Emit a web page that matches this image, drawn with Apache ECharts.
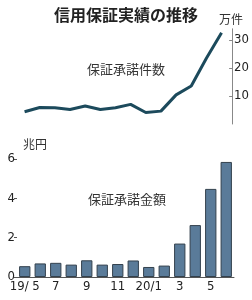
<!DOCTYPE html>
<html><head><meta charset="utf-8">
<script src="https://cdn.jsdelivr.net/npm/echarts@6/dist/echarts.min.js"></script>
<style>html,body{margin:0;padding:0;background:#fff}#c{width:252px;height:300px}</style>
</head><body><div id="c"></div>
<script>
const categories = ['19/ 5','6','7','8','9','10','11','12','20/1','2','3','4','5','6'];
const guaranteeCount = [4.4, 5.9, 5.8, 5.2, 6.4, 5.2, 5.8, 7.0, 4.1, 4.6, 10.4, 13.6, 23.5, 32.6];
const guaranteeAmount = [0.55, 0.69, 0.72, 0.63, 0.85, 0.63, 0.66, 0.84, 0.51, 0.58, 1.70, 2.64, 4.48, 5.85];
const countTicks = [10, 20, 30];
const amountTicks = [0, 2, 4, 6];

const numFont = '"Liberation Sans Narrow","DejaVu Sans Condensed","Noto Sans",sans-serif';
const cjkFont = '"Noto Sans CJK JP","Noto Sans",sans-serif';
const chart = echarts.init(document.getElementById('c'), null, {renderer:'canvas'});
chart.setOption({
  animation:false,
  backgroundColor:'#fff',
  title:[
    {text:'信用保証実績の推移', left:'center', top:2, textStyle:{fontFamily:cjkFont, fontSize:16, fontWeight:'bold', color:'#222'}},
  ],
  graphic:[
    {type:'text', left:219, top:13, style:{text:'万件', font:'12px '+cjkFont, fill:'#333'}},
    {type:'text', left:87, top:63, style:{text:'保証承諾件数', font:'13px '+cjkFont, fill:'#333'}},
    {type:'text', left:23, top:138, style:{text:'兆円', font:'12px '+cjkFont, fill:'#333'}},
    {type:'text', left:88, top:193, style:{text:'保証承諾金額', font:'13px '+cjkFont, fill:'#333'}}
  ],
  grid:[
    {left:17, right:18, top:28.8, bottom:176},
    {left:17, right:18, top:159, bottom:23}
  ],
  xAxis:[
    {type:'category', gridIndex:0, data:categories, boundaryGap:true, show:false},
    {type:'category', gridIndex:1, data:categories, boundaryGap:true,
     axisLine:{lineStyle:{color:'#555', width:1}}, axisTick:{show:false},
     axisLabel:{interval:1, margin:3, fontFamily:numFont, fontSize:13, color:'#222'}}
  ],
  yAxis:[
    {type:'value', gridIndex:0, position:'right', offset:3, min:0, max:34, interval:10,
     splitLine:{show:false},
     axisLine:{show:true, lineStyle:{color:'#888'}},
     axisTick:{show:true, inside:true, length:3, lineStyle:{color:'#888'}},
     axisLabel:{showMinLabel:false, showMaxLabel:false, margin:2, fontFamily:numFont, fontSize:13, color:'#222',
       formatter:v=>countTicks.includes(v)?String(v):''}},
    {type:'value', gridIndex:1, min:0, max:6, interval:2,
     splitLine:{show:false},
     axisLine:{show:false},
     axisTick:{show:true, length:3, lineStyle:{color:'#555'}},
     axisLabel:{margin:2, fontFamily:numFont, fontSize:13, color:'#222',
       formatter:v=>amountTicks.includes(v)?String(v):''}}
  ],
  series:[
    {type:'line', xAxisIndex:0, yAxisIndex:0, data:guaranteeCount, symbol:'none', clip:false,
     lineStyle:{color:'#1c4a5c', width:3}},
    {type:'bar', xAxisIndex:1, yAxisIndex:1, data:guaranteeAmount, barCategoryGap:'27%',
     itemStyle:{color:'#5a7b99', borderColor:'#33414d', borderWidth:1}}
  ]
});
</script></body></html>
